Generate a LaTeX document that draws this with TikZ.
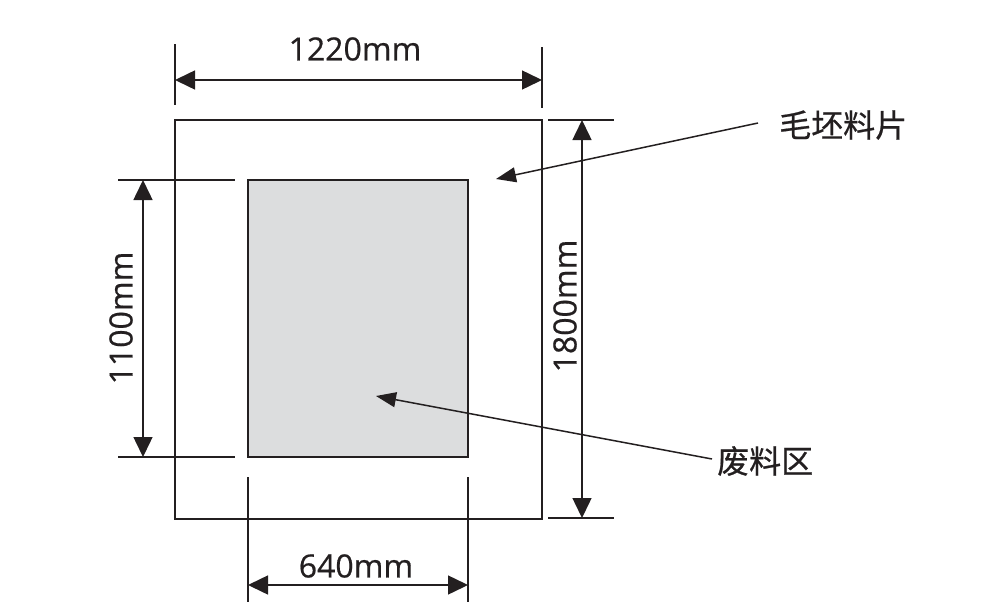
\documentclass[tikz,border=0pt]{standalone}
\usepackage{fontspec}
\setmainfont{Open Sans}[FakeBold=0.6,BoldFont={Open Sans}]
\newfontfamily\cjk{Noto Sans CJK SC}[FakeBold=0.6,BoldFont={Noto Sans CJK SC}]
\usetikzlibrary{arrows.meta}
\definecolor{ink}{RGB}{35,31,32}
\definecolor{scrap}{RGB}{220,221,222}
\begin{document}
\begin{tikzpicture}[x=1pt,y=-1pt,
  line/.style={draw=ink,line width=1.5pt},
  dimline/.style={line,{Triangle[length=20pt,width=19pt]}-{Triangle[length=20pt,width=19pt]}},
  leader/.style={line,-{Triangle[length=20pt,width=15pt]}},
  dimtext/.style={text=ink,inner sep=0pt,font=\fontsize{32}{36}\selectfont\bfseries},
  cntext/.style={text=ink,inner sep=0pt,font=\cjk\fontsize{32}{36}\selectfont\bfseries}]
\useasboundingbox (0,0) rectangle (1004,613);
% outer blank and inner scrap
\coordinate (oNW) at (175,120); \coordinate (oSE) at (542,519);
\coordinate (iNW) at (248,180); \coordinate (iSE) at (468,457);
\draw[line] (oNW) rectangle (oSE);
\draw[line,fill=scrap] (iNW) rectangle (iSE);
% top dimension
\coordinate (t1a) at (175,44); \coordinate (t1b) at (175,105);
\coordinate (t2a) at (542,47); \coordinate (t2b) at (542,108);
\draw[line] (t1a) -- (t1b); \draw[line] (t2a) -- (t2b);
\coordinate (ta) at (175,80); \coordinate (tb) at (542,80);
\draw[dimline] (ta) -- (tb);
\node[dimtext] (tlab) at (355,49) {1220mm};
% right dimension
\coordinate (r1a) at (548,120); \coordinate (r1b) at (614,120);
\coordinate (r2a) at (548,518); \coordinate (r2b) at (614,518);
\draw[line] (r1a) -- (r1b); \draw[line] (r2a) -- (r2b);
\coordinate (ra) at (582,120); \coordinate (rb) at (582,518);
\draw[dimline] (ra) -- (rb);
\node[dimtext,rotate=90] (rlab) at (565,306) {1800mm};
% left dimension
\coordinate (l1a) at (118,180); \coordinate (l1b) at (235,180);
\coordinate (l2a) at (118,457); \coordinate (l2b) at (235,457);
\draw[line] (l1a) -- (l1b); \draw[line] (l2a) -- (l2b);
\coordinate (la) at (143,180); \coordinate (lb) at (143,457);
\draw[dimline] (la) -- (lb);
\node[dimtext,rotate=90] (llab) at (121,318) {1100mm};
% bottom dimension
\coordinate (b1a) at (248,477); \coordinate (b1b) at (248,602);
\coordinate (b2a) at (468,477); \coordinate (b2b) at (468,602);
\draw[line] (b1a) -- (b1b); \draw[line] (b2a) -- (b2b);
\coordinate (ba) at (248,585); \coordinate (bb) at (468,585);
\draw[dimline] (ba) -- (bb);
\node[dimtext] (blab) at (356,566) {640mm};
% leaders
\node[cntext,anchor=west] (blank) at (779,125) {毛坯料片};
\coordinate (blankTip) at (496,179);
\draw[leader] (758,123) -- (blankTip);
\node[cntext,anchor=west] (waste) at (717,461) {废料区};
\coordinate (wasteTip) at (376,396);
\draw[leader] (712,459) -- (wasteTip);
\end{tikzpicture}
\end{document}
